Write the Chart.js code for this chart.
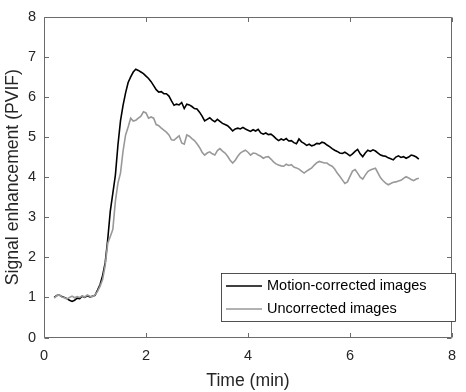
<!DOCTYPE html>
<html>
<head>
<meta charset="utf-8">
<script src="https://cdn.jsdelivr.net/npm/chart.js@4.4.1/dist/chart.umd.min.js"></script>
<style>
  html, body { margin: 0; padding: 0; background: #fff; }
  #wrap { width: 466px; height: 392px; position: relative; }
</style>
</head>
<body>
<div id="wrap"><canvas id="c" width="466" height="392"></canvas></div>
<script>
// ---- Data ----
const timeMin = [
  0.20,0.25,0.30,0.35,0.40,0.45,0.50,0.55,0.60,0.65,0.70,0.75,0.80,0.85,0.90,0.95,
  1.00,1.05,1.10,1.15,1.20,1.25,1.30,1.35,1.40,1.45,1.50,1.55,1.60,1.65,1.70,1.75,
  1.80,1.85,1.90,1.95,2.00,2.05,2.10,2.15,2.20,2.25,2.30,2.35,2.40,2.45,2.50,2.55,
  2.60,2.65,2.70,2.75,2.80,2.85,2.90,2.95,3.00,3.05,3.10,3.15,3.20,3.25,3.30,3.35,
  3.40,3.45,3.50,3.55,3.60,3.65,3.70,3.75,3.80,3.85,3.90,3.95,4.00,4.05,4.10,4.15,
  4.20,4.25,4.30,4.35,4.40,4.45,4.50,4.55,4.60,4.65,4.70,4.75,4.80,4.85,4.90,4.95,
  5.00,5.05,5.10,5.15,5.20,5.25,5.30,5.35,5.40,5.45,5.50,5.55,5.60,5.65,5.70,5.75,
  5.80,5.85,5.90,5.95,6.00,6.05,6.10,6.15,6.20,6.25,6.30,6.35,6.40,6.45,6.50,6.55,
  6.60,6.65,6.70,6.75,6.80,6.85,6.90,6.95,7.00,7.05,7.10,7.15,7.20,7.25,7.30,7.35
];
const motionCorrected = [
  1.00,1.05,1.06,1.02,1.00,0.97,0.93,0.90,0.93,0.98,0.97,1.03,1.00,1.04,1.01,1.03,
  1.05,1.18,1.32,1.55,1.86,2.45,3.15,3.60,4.05,4.80,5.40,5.79,6.10,6.36,6.50,6.62,
  6.69,6.66,6.62,6.58,6.52,6.46,6.38,6.28,6.18,6.12,6.13,6.08,6.08,6.02,5.90,5.79,
  5.82,5.80,5.86,5.71,5.82,5.80,5.76,5.71,5.70,5.62,5.52,5.40,5.44,5.48,5.42,5.38,
  5.44,5.39,5.34,5.31,5.28,5.22,5.15,5.20,5.22,5.20,5.24,5.20,5.17,5.14,5.18,5.15,
  5.19,5.10,5.07,5.10,5.06,5.07,5.02,4.96,4.91,4.95,4.92,4.96,4.90,4.91,4.86,4.83,
  4.95,4.88,4.84,4.79,4.82,4.78,4.80,4.84,4.83,4.87,4.85,4.80,4.76,4.71,4.67,4.64,
  4.60,4.59,4.62,4.58,4.53,4.58,4.64,4.69,4.58,4.51,4.60,4.67,4.64,4.68,4.65,4.60,
  4.55,4.53,4.52,4.48,4.46,4.43,4.50,4.53,4.49,4.51,4.47,4.50,4.55,4.53,4.50,4.45
];
const uncorrected = [
  0.98,1.04,1.06,1.01,0.99,0.96,1.00,1.03,0.99,1.02,1.00,1.04,1.01,1.06,1.03,1.02,
  1.06,1.15,1.28,1.45,1.80,2.35,2.52,2.70,3.40,3.85,4.10,4.65,5.05,5.25,5.47,5.40,
  5.42,5.47,5.52,5.63,5.60,5.47,5.50,5.47,5.31,5.28,5.22,5.17,5.12,5.05,4.93,4.92,
  4.98,5.03,4.85,4.82,5.05,5.02,4.96,4.91,4.83,4.74,4.62,4.55,4.60,4.63,4.58,4.55,
  4.66,4.71,4.65,4.60,4.52,4.42,4.35,4.42,4.52,4.60,4.64,4.67,4.62,4.55,4.60,4.59,
  4.55,4.52,4.47,4.50,4.51,4.45,4.38,4.33,4.30,4.28,4.27,4.32,4.29,4.31,4.25,4.23,
  4.20,4.15,4.10,4.15,4.19,4.23,4.30,4.36,4.39,4.37,4.35,4.35,4.30,4.27,4.20,4.10,
  4.02,3.93,3.84,3.88,4.02,4.15,4.19,4.10,4.00,3.95,4.05,4.14,4.18,4.20,4.22,4.10,
  3.98,3.91,3.85,3.81,3.84,3.87,3.88,3.90,3.92,3.97,4.01,3.98,3.94,3.91,3.95,3.97
];
const seriesLabels = ['Motion-corrected images', 'Uncorrected images'];
const xTicks = [0, 2, 4, 6, 8];
const yTicks = [0, 1, 2, 3, 4, 5, 6, 7, 8];
const xTitle = 'Time (min)';
const yTitle = 'Signal enhancement (PVIF)';

// ---- Styling ----
const FONT = '"Liberation Sans", Arial, Helvetica, sans-serif';
const AXIS_COLOR = '#262626';
const BOX_COLOR = '#6b6b6b';
const COLORS = ['#000000', '#999999'];

const toXY = (vals) => vals.map((v, i) => ({ x: timeMin[i], y: v }));

const boxPlugin = {
  id: 'boxAndTicks',
  afterDatasetsDraw(chart) {
    const { ctx, chartArea: a, scales } = chart;
    const L = Math.round(a.left) + 0.5, R = Math.round(a.right) - 0.5;
    const T = Math.round(a.top) + 0.5, B = Math.round(a.bottom) - 0.5;
    ctx.save();
    ctx.strokeStyle = BOX_COLOR;
    ctx.lineWidth = 1;
    ctx.beginPath();
    ctx.rect(L, T, R - L, B - T);
    ctx.stroke();
    const tl = 4.5;
    ctx.beginPath();
    xTicks.forEach(v => {
      const px = Math.round(scales.x.getPixelForValue(v)) + 0.5;
      ctx.moveTo(px, B); ctx.lineTo(px, B - tl);
      ctx.moveTo(px, T); ctx.lineTo(px, T + tl);
    });
    yTicks.forEach(v => {
      const py = Math.round(scales.y.getPixelForValue(v)) + 0.5;
      ctx.moveTo(L, py); ctx.lineTo(L + tl, py);
      ctx.moveTo(R, py); ctx.lineTo(R - tl, py);
    });
    ctx.stroke();
    ctx.restore();
  }
};

const legendPlugin = {
  id: 'matlabLegend',
  afterDraw(chart) {
    const { ctx } = chart;
    const bx = 221.5, by = 273.5, bw = 234, bh = 48;
    ctx.save();
    ctx.fillStyle = '#fff';
    ctx.fillRect(bx, by, bw, bh);
    ctx.strokeStyle = AXIS_COLOR;
    ctx.lineWidth = 0.8;
    ctx.strokeRect(bx, by, bw, bh);
    const rows = [286, 309];
    chart.data.datasets.forEach((ds, i) => {
      const y = rows[i];
      ctx.strokeStyle = ds.borderColor;
      ctx.lineWidth = 1.6;
      ctx.beginPath();
      ctx.moveTo(226, y); ctx.lineTo(262, y);
      ctx.stroke();
      ctx.fillStyle = '#000';
      ctx.font = '14.5px ' + FONT;
      ctx.textAlign = 'left';
      ctx.textBaseline = 'middle';
      ctx.fillText(ds.label, 267, y);
    });
    ctx.restore();
  }
};

new Chart(document.getElementById('c'), {
  type: 'line',
  data: {
    datasets: [
      { label: seriesLabels[0], data: toXY(motionCorrected), borderColor: COLORS[0], borderWidth: 1.6, pointRadius: 0, tension: 0, order: 1 },
      { label: seriesLabels[1], data: toXY(uncorrected), borderColor: COLORS[1], borderWidth: 1.6, pointRadius: 0, tension: 0, order: 0 }
    ]
  },
  options: {
    responsive: false,
    animation: false,
    events: [],
    layout: { padding: { left: 0, right: 4, top: 5, bottom: 0 } },
    plugins: { legend: { display: false }, tooltip: { enabled: false } },
    scales: {
      x: {
        type: 'linear', min: 0, max: 8,
        afterBuildTicks: (s) => { s.ticks = xTicks.map(v => ({ value: v })); },
        afterFit: (s) => { s.height = 54.5; },
        grid: { display: false, drawTicks: false },
        border: { display: false },
        ticks: { padding: 10, color: AXIS_COLOR, font: { family: FONT, size: 14.5 }, maxRotation: 0, autoSkip: false },
        title: { display: true, text: xTitle, color: AXIS_COLOR, font: { family: FONT, size: 17.6 }, padding: { top: 0, bottom: 0 } }
      },
      y: {
        type: 'linear', min: 0, max: 8,
        afterBuildTicks: (s) => { s.ticks = yTicks.map(v => ({ value: v })); },
        afterFit: (s) => { s.width = 44; },
        grid: { display: false, drawTicks: false },
        border: { display: false },
        ticks: { padding: 8, color: AXIS_COLOR, font: { family: FONT, size: 14.5 }, autoSkip: false },
        title: { display: true, text: yTitle, color: AXIS_COLOR, font: { family: FONT, size: 17.6 }, padding: { top: 2.5, bottom: 0 } }
      }
    }
  },
  plugins: [boxPlugin, legendPlugin]
});
</script>
</body>
</html>
